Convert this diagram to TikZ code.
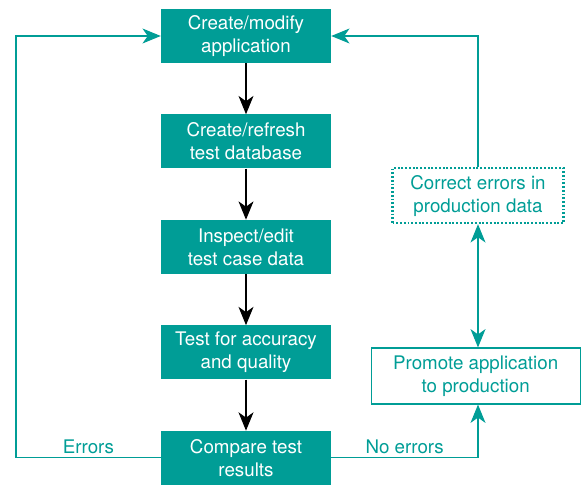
\documentclass[tikz,border=0pt]{standalone}
\usepackage{fontspec}
\setmainfont{TeX Gyre Heros}
\usetikzlibrary{arrows.meta, positioning}
\definecolor{tealc}{RGB}{0,157,150}

\begin{document}
\begin{tikzpicture}[
      node distance=1.53cm,
      box/.style={fill=tealc, text=white, align=center, font=\fontsize{16}{19.5}\selectfont, minimum width=5.1cm, minimum height=1.62cm, inner sep=0pt},
      obox/.style={draw=tealc, text=tealc, align=center, font=\fontsize{16}{19.5}\selectfont, inner sep=0pt},
      ar/.style={-{Stealth[length=5.5mm, width=4.5mm, inset=1.6mm]}, line width=0.9pt},
      tl/.style={ar, tealc},
      lbl/.style={text=tealc, font=\fontsize{16}{19.5}\selectfont, above}
    ]
    \useasboundingbox (0,0) rectangle (17.61,-14.55);
    \node[box] (app) at (7.38,-1.08) {Create/modify\\application};
    \node[box, below=of app] (db) {Create/refresh\\test database};
    \node[box, below=of db] (insp) {Inspect/edit\\test case data};
    \node[box, below=of insp] (acc) {Test for accuracy\\and quality};
    \node[box, below=of acc] (cmp) {Compare test\\results};
    \node[obox, dash pattern=on 1.6pt off 1.6pt, line width=1.8pt, minimum width=5.13cm, minimum height=1.65cm] (fix) at (14.34,-5.87) {Correct errors in\\production data};
    \node[obox, line width=1pt, minimum width=6.27cm, minimum height=1.68cm] (prom) at (14.27,-11.28) {Promote application\\to production};
    \coordinate (lft) at (0.48,0);
    \draw[ar] (app) -- (db); \draw[ar] (db) -- (insp); \draw[ar] (insp) -- (acc);
    \draw[ar] (acc) -- (cmp);
    \draw[tl] (cmp.west) -- node[lbl] {Errors} (cmp.west -| lft) |- (app.west);
    \draw[tl] (cmp.east) -- node[lbl] {No errors} (cmp.east -| fix.south) -- (fix.south |- prom.south);
    \draw[tl] (fix.north) |- (app.east);
    \draw[tl, {Stealth[length=5.5mm, width=4.5mm, inset=1.6mm]}-{Stealth[length=5.5mm, width=4.5mm, inset=1.6mm]}] (fix.south) -- (fix.south |- prom.north);
  \end{tikzpicture}
\end{document}
